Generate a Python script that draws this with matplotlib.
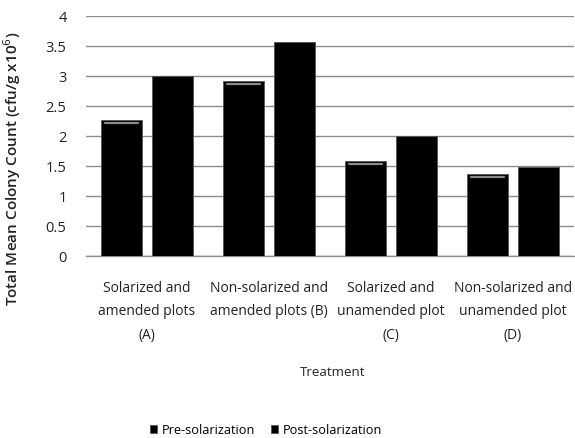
import matplotlib
matplotlib.use("Agg")
import matplotlib.pyplot as plt
import numpy as np

categories = [
    "Solarized and\namended plots\n(A)",
    "Non-solarized and\namended plots (B)",
    "Solarized and\nunamended plot\n(C)",
    "Non-solarized and\nunamended plot\n(D)",
]
pre_solarization = [2.26, 2.92, 1.58, 1.37]
post_solarization = [3.0, 3.57, 2.0, 1.48]
series_names = ["Pre-solarization", "Post-solarization"]

plt.rcParams["font.family"] = ["Open Sans", "DejaVu Sans"]

fig = plt.figure(figsize=(5.75, 4.39), dpi=100)
ax = fig.add_axes([86 / 575, 1 - 257 / 439, 488 / 575, 240 / 439])

x = np.arange(len(categories))
w = 0.34
off = 0.21
b1 = ax.bar(x - off, pre_solarization, w, color="black", edgecolor="#555555",
            linewidth=0.6, label=series_names[0], zorder=3)
b2 = ax.bar(x + off, post_solarization, w, color="black", edgecolor="#555555",
            linewidth=0.6, label=series_names[1], zorder=3)
# bevel highlight on the pre-solarization bars
for xi, v in zip(x - off, pre_solarization):
    ax.plot([xi - w * 0.4, xi + w * 0.4], [v - 0.05, v - 0.05], color="#8a8a8a",
            linewidth=1.6, solid_capstyle="round", zorder=4)

ax.set_xlim(-0.5, 3.5)
ax.set_ylim(0, 4)
ax.set_yticks(np.arange(0, 4.01, 0.5))
ax.set_yticklabels(["0", "0.5", "1", "1.5", "2", "2.5", "3", "3.5", "4"],
                   fontsize=10.5, color="#222222")
ax.yaxis.grid(True, color="#8c8c8c", linewidth=1.0, zorder=0)
ax.set_axisbelow(True)
ax.set_xticks(x)
ax.set_xticklabels(categories, fontsize=10, linespacing=1.78, color="#222222")
ax.tick_params(axis="both", length=0)
ax.tick_params(axis="x", pad=17)
ax.tick_params(axis="y", pad=14)
for s in ["top", "right", "left"]:
    ax.spines[s].set_visible(False)
ax.spines["bottom"].set_color("#8c8c8c")
ax.spines["bottom"].set_linewidth(1.0)

ax.set_ylabel("Total Mean Colony Count (cfu/g x10$^6$)", fontsize=11,
              fontweight="semibold", color="#222222")
ax.yaxis.set_label_coords(-0.129, 0.367)

fig.text(333 / 575, 1 - 372 / 439, "Treatment", ha="center", va="center",
         fontsize=9.5, color="#222222")

fig.legend(handles=[b1, b2], labels=series_names, loc="center",
           bbox_to_anchor=(266 / 575, 1 - 431 / 439), ncol=2, frameon=False,
           fontsize=9.2, handlelength=0.55, handleheight=0.55, columnspacing=1.3,
           handletextpad=0.35)

fig.savefig("out.png", dpi=100)
